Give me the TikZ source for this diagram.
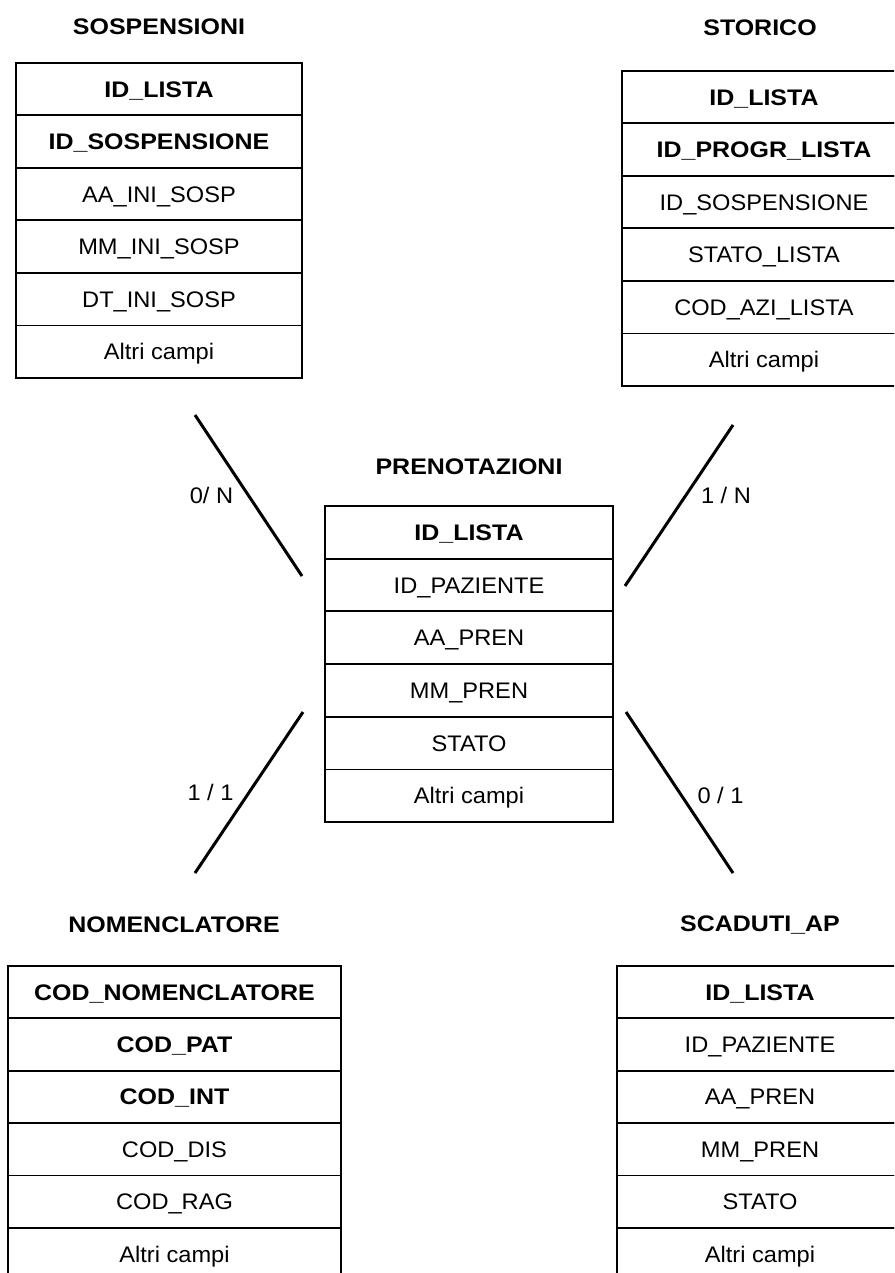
\documentclass[tikz,border=0pt]{standalone}
\usepackage{fontspec}
\setmainfont{Liberation Sans}[FakeStretch=1.05, BoldFeatures={FakeStretch=1.11}]
\newcommand\fsz{\fontsize{22.5}{26}\selectfont}
\tikzset{
  field/.style={draw=black, line width=1.8pt, minimum width=#1, minimum height=52.5pt,
                inner sep=0pt, text height=16.1pt, text depth=0pt, anchor=north, font=\fsz},
  tabtitle/.style={font=\fsz\bfseries, inner sep=0pt},
  card/.style={font=\fsz, inner sep=0pt},
  conn/.style={line width=3pt, line cap=butt}
}
\begin{document}
\begin{tikzpicture}[x=1pt,y=-1pt]
\useasboundingbox (0,0) rectangle (894,1273);
\clip (0,0) rectangle (894,1273);

% SOSPENSIONI
\node[tabtitle] (sosp-title) at (159,27) {SOSPENSIONI};
\foreach \t [count=\i] in {\textbf{ID\_LISTA},\textbf{ID\_SOSPENSIONE},AA\_INI\_SOSP,MM\_INI\_SOSP,DT\_INI\_SOSP,Altri campi}
  \node[field=286pt] (sosp-\i) at (159,{62+(\i-1)*52.5}) {\t};

% STORICO
\node[tabtitle] (stor-title) at (760,28) {STORICO};
\foreach \t [count=\i] in {\textbf{ID\_LISTA},\textbf{ID\_PROGR\_LISTA},ID\_SOSPENSIONE,STATO\_LISTA,COD\_AZI\_LISTA,Altri campi}
  \node[field=284pt] (stor-\i) at (764,{70+(\i-1)*52.5}) {\t};

% PRENOTAZIONI
\node[tabtitle] (pren-title) at (469,467) {PRENOTAZIONI};
\foreach \t [count=\i] in {\textbf{ID\_LISTA},ID\_PAZIENTE,AA\_PREN,MM\_PREN,STATO,Altri campi}
  \node[field=288pt, minimum height=52.7pt] (pren-\i) at (469,{505+(\i-1)*52.7}) {\t};

% NOMENCLATORE
\node[tabtitle] (nom-title) at (174,925) {NOMENCLATORE};
\foreach \t [count=\i] in {\textbf{COD\_NOMENCLATORE},\textbf{COD\_PAT},\textbf{COD\_INT},COD\_DIS,COD\_RAG,Altri campi}
  \node[field=333pt, minimum height=52.4pt] (nom-\i) at (174.5,{965+(\i-1)*52.4}) {\t};

% SCADUTI_AP
\node[tabtitle] (scad-title) at (760,925) {SCADUTI\_AP};
\foreach \t [count=\i] in {\textbf{ID\_LISTA},ID\_PAZIENTE,AA\_PREN,MM\_PREN,STATO,Altri campi}
  \node[field=286pt, minimum height=52.4pt] (scad-\i) at (760,{965+(\i-1)*52.4}) {\t};

% connectors
\coordinate (c1a) at (195,415); \coordinate (c1b) at (302,576);
\coordinate (c2a) at (733,425); \coordinate (c2b) at (625,586);
\coordinate (c3a) at (303,712); \coordinate (c3b) at (195,873);
\coordinate (c4a) at (626,712); \coordinate (c4b) at (733,873);
\draw[conn] (c1a) -- (c1b);
\draw[conn] (c2a) -- (c2b);
\draw[conn] (c3a) -- (c3b);
\draw[conn] (c4a) -- (c4b);

% cardinalities
\node[card] (l1) at (211.5,495) {0/ N};
\node[card] (l2) at (726,495) {1 / N};
\node[card] (l3) at (210.5,792) {1 / 1};
\node[card] (l4) at (720.5,795) {0 / 1};
\end{tikzpicture}
\end{document}
